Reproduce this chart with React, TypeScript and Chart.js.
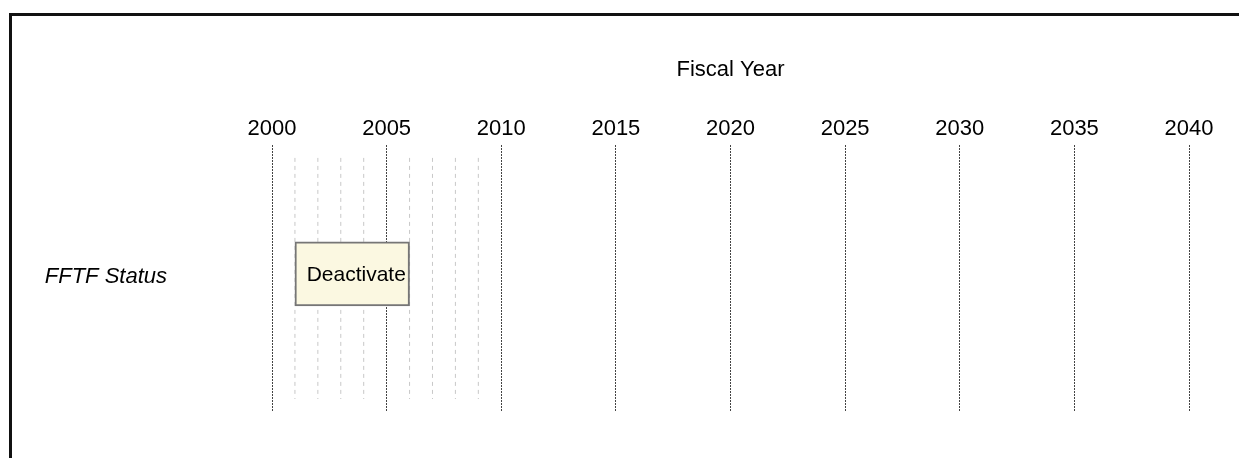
import React, { useEffect, useRef } from 'react';
import { Chart, registerables } from 'chart.js';

Chart.register(...registerables);

// ---- data ----
const axisTitle = 'Fiscal Year';
const majorYears = [2000, 2005, 2010, 2015, 2020, 2025, 2030, 2035, 2040];
const minorYears = [2001, 2002, 2003, 2004, 2006, 2007, 2008, 2009];
const rowLabels = ['FFTF Status'];
const activityLabels = ['Deactivate'];
const activityStart = [2001];
const activityEnd = [2006];

// ---- layout constants (y scale runs 0..100 top to bottom) ----
const ROW_CENTER = 48.3;
const ROW_LABEL_Y = 49.4;
const MINOR_TOP = 4.9;
const MINOR_BOTTOM = 95.1;

const FONT = "'Liberation Sans', Arial, sans-serif";

export default function App() {
  const ref = useRef<HTMLCanvasElement>(null);

  useEffect(() => {
    const canvas = ref.current;
    if (!canvas) return;

    const activityLabelPlugin = {
      id: 'activityLabels',
      afterDatasetsDraw(chart: any) {
        const meta = chart.getDatasetMeta(0);
        const ctx = chart.ctx;
        ctx.save();
        ctx.font = `21px ${FONT}`;
        ctx.fillStyle = '#000';
        ctx.textAlign = 'center';
        ctx.textBaseline = 'middle';
        meta.data.forEach((el: any, i: number) => {
          const cx = (el.x + el.base) / 2 + 4;
          ctx.fillText(activityLabels[i], cx, el.y + 1);
        });
        ctx.restore();
      },
    };

    const datasets: any[] = [
      {
        type: 'bar',
        indexAxis: 'y',
        data: activityLabels.map((_, i) => ({ x: [activityStart[i], activityEnd[i]], y: ROW_CENTER })),
        backgroundColor: '#FBF8E1',
        borderColor: '#767676',
        borderWidth: 2,
        borderSkipped: false,
        barThickness: 64,
        order: 0,
      },
      ...minorYears.map((yr) => ({
        type: 'line',
        data: [
          { x: yr, y: MINOR_TOP },
          { x: yr, y: MINOR_BOTTOM },
        ],
        borderColor: '#c8c8c8',
        borderWidth: 1,
        borderDash: [4, 4],
        pointRadius: 0,
        fill: false,
        order: 1,
      })),
    ];

    const chart = new Chart(canvas, {
      type: 'bar',
      data: { datasets },
      options: {
        responsive: false,
        animation: false,
        devicePixelRatio: 1,
        layout: { padding: { left: 10, right: 50, top: 55, bottom: 46 } },
        plugins: {
          legend: { display: false },
          tooltip: { enabled: false },
        },
        scales: {
          x: {
            type: 'linear',
            position: 'top',
            min: 2000,
            max: 2040,
            offset: false,
            afterBuildTicks: (s: any) => {
              s.ticks = majorYears.map((v) => ({ value: v }));
            },
            ticks: {
              callback: (v: any) => String(v),
              font: { family: FONT, size: 22 },
              color: '#000',
              padding: 3,
              maxRotation: 0,
              autoSkip: false,
            },
            grid: { color: '#444', lineWidth: 1, drawTicks: false, offset: false },
            border: { display: false, dash: [2, 1] },
            title: {
              display: true,
              text: axisTitle,
              font: { family: FONT, size: 22 },
              color: '#000',
              padding: { top: 2, bottom: 29 },
            },
          },
          y: {
            type: 'linear',
            min: 0,
            max: 100,
            reverse: true,
            offset: false,
            afterBuildTicks: (s: any) => {
              s.ticks = rowLabels.map(() => ({ value: ROW_LABEL_Y }));
            },
            afterFit: (s: any) => {
              s.width = 262;
              s.paddingTop = 0;
              s.paddingBottom = 0;
            },
            ticks: {
              callback: (_v: any, i: number) => rowLabels[i],
              font: { family: FONT, size: 22, style: 'italic' },
              color: '#000',
              padding: 105,
              autoSkip: false,
            },
            grid: { display: false, drawTicks: false, offset: false },
            border: { display: false },
          },
        },
      } as any,
      plugins: [activityLabelPlugin],
    } as any);

    return () => chart.destroy();
  }, []);

  return (
    <div
      style={{
        position: 'fixed',
        left: 0,
        top: 0,
        width: 1239,
        height: 458,
        background: '#fff',
        overflow: 'hidden',
      }}
    >
      <div
        style={{
          position: 'absolute',
          left: 9,
          top: 13,
          width: 1300,
          height: 500,
          borderLeft: '3px solid #111',
          borderTop: '3px solid #111',
        }}
      />
      <canvas ref={ref} width={1239} height={458} style={{ position: 'absolute', left: 0, top: 0 }} />
    </div>
  );
}
